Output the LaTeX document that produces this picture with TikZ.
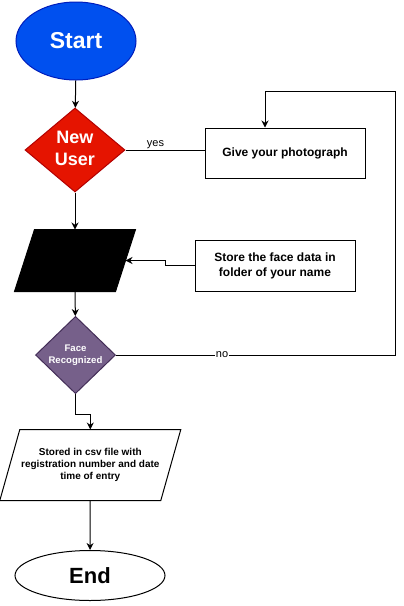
\documentclass[tikz,border=0pt]{standalone}
\usepackage{fontspec}
\setmainfont{Liberation Sans}
\usetikzlibrary{shapes.geometric,arrows.meta,positioning}
\definecolor{startfill}{HTML}{0050EF}
\definecolor{startline}{HTML}{001DBC}
\definecolor{userfill}{HTML}{E51400}
\definecolor{userline}{HTML}{B20000}
\definecolor{facefill}{HTML}{76608A}
\definecolor{faceline}{HTML}{432D57}
\newcommand{\cellines}[1]{\begin{tabular}{@{}c@{}}#1\end{tabular}}
\begin{document}
\begin{tikzpicture}[x=1pt,y=-1pt,line width=1pt,
    arr/.style={-{Stealth[length=7pt,width=7pt]}},
    box/.style={rectangle,draw,minimum width=160pt,minimum height=50pt,font=\bfseries\fontsize{12}{15}\selectfont},
    parabody/.style={rectangle,inner sep=0pt}]
      \useasboundingbox (0,0) rectangle (404,606);
      \node[ellipse,draw=startline,fill=startfill,text=white,minimum width=120pt,minimum height=78pt,font=\bfseries\fontsize{23}{27}\selectfont] (start) at (76,41) {Start};
      \node[diamond,draw=userline,fill=userfill,text=white,minimum width=100pt,minimum height=80pt,inner sep=0pt,font=\bfseries\fontsize{18}{22}\selectfont] (newuser) at (75,150) {\cellines{New\\User}};
      \node[box] (photo) at (285,153) {Give your photograph};
      \node[parabody,minimum width=100pt,minimum height=61pt] (data) at (75,260.5) {};
      \filldraw ([xshift=10pt]data.north west) -- ([xshift=10pt]data.north east) -- ([xshift=-10pt]data.south east) -- ([xshift=-10pt]data.south west) -- cycle;
      \node[box,minimum width=160pt,minimum height=51pt] (store) at (275,265.5) {\cellines{Store the face data in\\folder of your name}};
      \node[diamond,draw=faceline,fill=facefill,text=white,minimum width=80pt,minimum height=70pt,inner sep=0pt,font=\bfseries\fontsize{9.6}{11.7}\selectfont] (face) at (75.5,355) {\cellines{Face\\Recognized}};
      \node[parabody,minimum width=160pt,minimum height=70pt,font=\bfseries\fontsize{10}{11.7}\selectfont] (csv) at (90.3,465) {\cellines{Stored in csv file with\\registration number and date\\time of entry}};
      \draw ([xshift=10pt]csv.north west) -- ([xshift=10pt]csv.north east) -- ([xshift=-10pt]csv.south east) -- ([xshift=-10pt]csv.south west) -- cycle;
      \node[ellipse,draw,minimum width=150pt,minimum height=50pt,font=\bfseries\fontsize{22}{26}\selectfont] (end) at (90,575.5) {End};
      \coordinate (loop) at (395,91);
      \coordinate (bend) at (165,260.5);
      \draw[arr] (start) -- (newuser);
      \draw (newuser.east) -- node[above,pos=0.38,inner sep=1pt,font=\fontsize{11}{13}\selectfont] {yes} (newuser.east -| photo.west);
      \draw[arr] (newuser) -- (data);
      \draw[arr] (store.west) -| (bend) -- (data.east);
      \draw[arr] (data) -- (face);
      \draw[arr] (face.east) -| node[pos=0.19,fill=white,inner sep=1pt,font=\fontsize{11}{13}\selectfont] {no} (loop) -| ([xshift=-20pt]photo.north);
      \draw[arr] (face.south) -- ++(0,20) -| (csv.north);
      \draw[arr] (csv) -- (end);
    \end{tikzpicture}
\end{document}
